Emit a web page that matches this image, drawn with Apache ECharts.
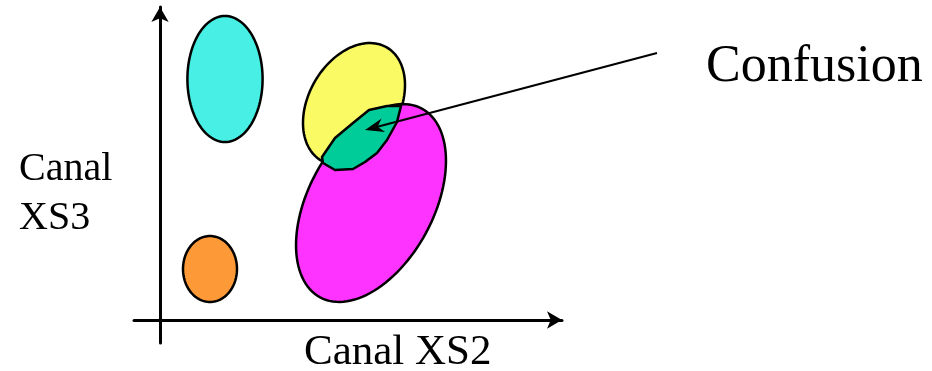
<!DOCTYPE html>
<html>
<head>
<meta charset="utf-8">
<title>Confusion</title>
<script src="https://cdn.jsdelivr.net/npm/echarts@6/dist/echarts.min.js"></script>
<style>
  html, body { margin: 0; padding: 0; background: #fff; }
  #chart { width: 932px; height: 371px; }
</style>
</head>
<body>
<div id="chart"></div>
<script>
// clusters in (XS2, XS3) space: [centerX, centerY, radiusX, radiusY, tilt in degrees]
const clusterNames = ['cyan', 'orange', 'yellow', 'magenta']
const clusters = [
  [16.25, 60.25, 9.4, 15.75, 0],
  [12.5, 12.75, 6.75, 8.25, 0],
  [48.5, 54, 11.3, 16.35, 30],
  [52.75, 29.25, 15.65, 26.8, 28.3]
]
const clusterColors = ['#48efe4', '#fd9a37', '#fafa64', '#ff33ff']

// overlap of the yellow and magenta classes
const confusionZone = [
  [52.25, 52.5], [56.75, 53.5], [60.25, 53.5], [59.25, 49.5], [56.75, 45],
  [54.25, 41.75], [51.25, 39.5], [48.25, 37.75], [43.75, 37.5], [40.75, 39.25],
  [40.5, 40.75], [43.75, 45.5], [48.25, 49.25]
]

// pointer from the label to the overlap
const pointer = [[124.25, 66.75], [51.25, 47.5]]

const chart = echarts.init(document.getElementById('chart'))

function ellipseItem(params, api) {
  const c = api.coord([api.value(0), api.value(1)])
  const s = api.size([api.value(2), api.value(3)])
  const a = api.value(4) * Math.PI / 180
  const pts = []
  for (let i = 0; i < 120; i++) {
    const t = i / 120 * Math.PI * 2
    const x = s[0] * Math.cos(t)
    const y = -s[1] * Math.sin(t)
    // rotate clockwise on screen
    pts.push([c[0] + x * Math.cos(a) - y * Math.sin(a), c[1] + x * Math.sin(a) + y * Math.cos(a)])
  }
  return {
    type: 'polygon',
    shape: { points: pts },
    style: { fill: clusterColors[params.dataIndex], stroke: '#000', lineWidth: 2.5 }
  }
}

function zoneItem(params, api) {
  if (params.dataIndex > 0) return
  const pts = confusionZone.map(p => api.coord(p))
  return {
    type: 'polygon',
    shape: { points: pts },
    style: { fill: '#00cc99', stroke: '#000', lineWidth: 2.5, lineJoin: 'round' }
  }
}

function pointerItem(params, api) {
  if (params.dataIndex > 0) return
  const p0 = api.coord(pointer[0])
  const p1 = api.coord(pointer[1])
  const ang = Math.atan2(p0[1] - p1[1], p0[0] - p1[0])
  const ux = Math.cos(ang)
  const uy = Math.sin(ang)
  const len = 19
  const half = 7
  const notch = 13
  const head = [
    p1,
    [p1[0] + ux * len - uy * half, p1[1] + uy * len + ux * half],
    [p1[0] + ux * notch, p1[1] + uy * notch],
    [p1[0] + ux * len + uy * half, p1[1] + uy * len - ux * half]
  ]
  return {
    type: 'group',
    children: [
      {
        type: 'line',
        shape: { x1: p0[0], y1: p0[1], x2: p1[0] + ux * 10, y2: p1[1] + uy * 10 },
        style: { stroke: '#000', lineWidth: 2.2 }
      },
      {
        type: 'polygon',
        shape: { points: head },
        style: { fill: '#000' }
      }
    ]
  }
}

const font = '"Liberation Serif", "Times New Roman", serif'

chart.setOption({
  animation: false,
  backgroundColor: '#fff',
  grid: { left: 134, right: 370, top: 7, bottom: 28, containLabel: false },
  xAxis: {
    type: 'value',
    min: -6.5,
    max: 100.5,
    axisLine: {
      show: true,
      onZero: true,
      symbol: ['none', 'arrow'],
      symbolSize: [13, 15],
      lineStyle: { color: '#000', width: 3 }
    },
    axisTick: { show: false },
    axisLabel: { show: false },
    splitLine: { show: false }
  },
  yAxis: {
    type: 'value',
    min: -5.75,
    max: 78.25,
    axisLine: {
      show: true,
      onZero: true,
      symbol: ['none', 'arrow'],
      symbolSize: [13, 15],
      lineStyle: { color: '#000', width: 3 }
    },
    axisTick: { show: false },
    axisLabel: { show: false },
    splitLine: { show: false }
  },
  graphic: [
    { type: 'text', left: 19, top: 149, style: { text: 'Canal', font: '40px ' + font, fill: '#000' } },
    { type: 'text', left: 19, top: 198, style: { text: 'XS3', font: '40px ' + font, fill: '#000' } },
    { type: 'text', left: 304, top: 331, style: { text: 'Canal XS2', font: '43px ' + font, fill: '#000' } },
    { type: 'text', left: 706, top: 41, style: { text: 'Confusion', font: '52px ' + font, fill: '#000' } }
  ],
  series: [
    {
      name: 'classes',
      type: 'custom',
      renderItem: ellipseItem,
      data: clusters,
      clip: false,
      silent: true
    },
    {
      name: 'confusion',
      type: 'custom',
      renderItem: zoneItem,
      data: [0],
      clip: false,
      silent: true
    },
    {
      name: 'pointer',
      type: 'custom',
      renderItem: pointerItem,
      data: [0],
      clip: false,
      silent: true
    }
  ]
})
</script>
</body>
</html>
